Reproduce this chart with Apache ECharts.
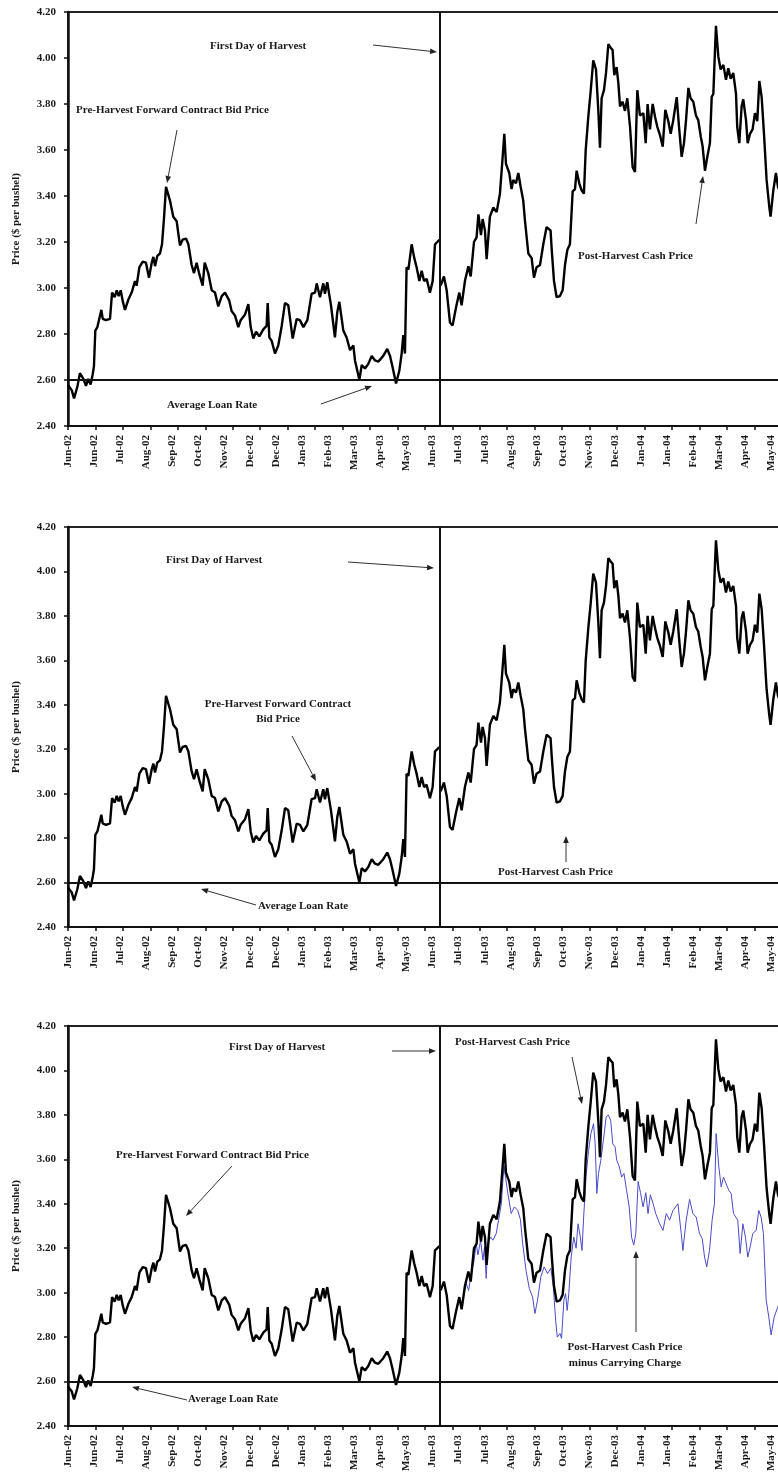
<!DOCTYPE html>
<html>
<head>
<meta charset="utf-8">
<script src="https://cdn.jsdelivr.net/npm/echarts@6/dist/echarts.min.js"></script>
<style>
html,body{margin:0;padding:0;background:#fff;overflow:hidden;}
#chart{width:810px;height:1477px;}
</style>
</head>
<body>
<div id="chart"></div>
<script>
// ---- DATA (x = trading-day index from first day shown, y = $ per bushel) ----
const tickLabels = ['Jun-02','Jun-02','Jul-02','Aug-02','Sep-02','Oct-02','Nov-02','Dec-02','Dec-02','Jan-03','Feb-03','Mar-03','Apr-03','May-03','Jun-03','Jul-03','Jul-03','Aug-03','Sep-03','Oct-03','Nov-03','Dec-03','Jan-04','Jan-04','Feb-04','Mar-04','Apr-04','May-04'];
const harvestDay = 271;
const loanRate = 2.595;

const preHarvest = [[0,2.577],[2.7,2.556],[4.4,2.52],[6.8,2.57],[8.7,2.63],[11.2,2.605],[13.1,2.575],[14.8,2.605],[16.5,2.58],[18,2.625],[18.9,2.66],[19.9,2.815],[21.4,2.83],[22.8,2.866],[24.3,2.905],[25.3,2.866],[27.7,2.86],[30.6,2.866],[32.1,2.98],[34,2.96],[35.5,2.99],[36.9,2.965],[38.4,2.99],[39.8,2.945],[41.5,2.905],[44,2.95],[46.4,2.98],[48.8,3.03],[50,3.01],[52,3.09],[54.4,3.115],[56.8,3.11],[59,3.045],[61,3.11],[62.2,3.135],[63.4,3.095],[65.1,3.14],[67,3.15],[68.5,3.19],[69.9,3.30],[71.4,3.44],[74.3,3.38],[76.7,3.31],[79.2,3.29],[80.4,3.236],[81.6,3.185],[83.5,3.21],[86,3.215],[87.7,3.19],[90.1,3.10],[91.8,3.065],[93.7,3.11],[95.7,3.06],[98.1,3.01],[99.6,3.11],[102.2,3.065],[104.7,2.99],[107.1,2.98],[109.5,2.92],[112,2.965],[114.4,2.98],[117.5,2.945],[119.2,2.90],[121.7,2.88],[124.1,2.83],[125.8,2.86],[129,2.885],[131.4,2.93],[133.1,2.83],[135,2.78],[137,2.81],[139.4,2.79],[142.3,2.82],[144.7,2.835],[145.5,2.935],[146.7,2.785],[148.4,2.77],[150.8,2.715],[153.2,2.75],[155.7,2.835],[158.1,2.935],[160.5,2.925],[163.7,2.78],[166.6,2.865],[169,2.86],[171.5,2.83],[174.4,2.86],[177.5,2.975],[180,2.98],[181.2,3.02],[183.6,2.96],[186,3.02],[187.2,2.975],[188.9,3.025],[191.6,2.925],[194.5,2.785],[196.2,2.895],[197.7,2.94],[200.6,2.815],[203,2.785],[205.5,2.73],[207.9,2.75],[209.1,2.685],[212.3,2.60],[214,2.665],[216.4,2.65],[218.8,2.67],[221.3,2.705],[223.7,2.685],[226.1,2.68],[229.7,2.705],[232.6,2.735],[234.6,2.705],[236.5,2.655],[239,2.585],[241.4,2.64],[243.1,2.715],[244.3,2.795],[245.5,2.715],[246.7,3.09],[248,3.08],[250.4,3.19],[252.3,3.13],[254,3.09],[256,3.03],[257.7,3.075],[259.4,3.03],[261.3,3.04],[263.7,2.98],[265.7,3.03],[267.4,3.19],[269.1,3.20],[270.5,3.21]];

const postHarvest = [[271.5,3.01],[273.9,3.05],[275.9,2.99],[278.3,2.85],[280.2,2.837],[282.7,2.915],[285.1,2.98],[286.8,2.925],[289.2,3.03],[291.7,3.095],[293.4,3.05],[295.8,3.20],[297.7,3.22],[299,3.32],[300.9,3.23],[302.1,3.30],[303.8,3.25],[305,3.125],[307.4,3.31],[309.9,3.35],[312.3,3.33],[314.7,3.41],[316.7,3.57],[317.9,3.67],[319.1,3.54],[321.5,3.50],[323.2,3.43],[324.4,3.47],[326.4,3.455],[328.1,3.50],[329.8,3.44],[331.7,3.38],[332.9,3.295],[335.4,3.15],[337.8,3.13],[339.5,3.045],[341.4,3.09],[343.9,3.10],[346.3,3.19],[348.7,3.265],[350,3.27],[351.6,3.25],[352.4,3.17],[354.1,3.03],[356,2.96],[358.4,2.965],[360.4,2.99],[362.1,3.10],[363.8,3.165],[365.7,3.19],[367.7,3.42],[369.4,3.43],[370.6,3.51],[372.5,3.455],[374.2,3.425],[375.9,3.41],[377.2,3.60],[379.1,3.745],[380.8,3.855],[382.7,3.99],[384.7,3.95],[386.4,3.77],[387.6,3.61],[388.8,3.825],[390.5,3.86],[392,3.935],[393.7,4.06],[395.4,4.045],[396.8,4.035],[398,3.925],[399.7,3.96],[401,3.89],[402.2,3.79],[404.1,3.81],[405.8,3.77],[407.5,3.825],[409.5,3.70],[411.4,3.525],[413.1,3.505],[414.8,3.86],[416.7,3.75],[419.2,3.76],[420.9,3.63],[422.3,3.80],[424,3.69],[426,3.80],[427.7,3.745],[429.4,3.70],[431.3,3.665],[433.3,3.615],[435.2,3.775],[437.4,3.725],[439.1,3.67],[441,3.73],[443.5,3.83],[445.2,3.70],[447.1,3.57],[448.8,3.63],[450.3,3.73],[452,3.87],[453.6,3.825],[455.6,3.81],[457.5,3.75],[459.2,3.73],[461,3.66],[462.4,3.615],[464.1,3.51],[465.8,3.57],[467.7,3.63],[469,3.83],[470.2,3.845],[471.4,4.035],[472.1,4.14],[473.8,4.007],[475.5,3.95],[477.5,3.97],[479.4,3.905],[481.1,3.955],[482.8,3.91],[484.7,3.935],[486.7,3.845],[487.6,3.70],[489.1,3.63],[490.8,3.79],[492,3.82],[494,3.73],[495.2,3.63],[496.9,3.67],[498.8,3.69],[500.5,3.76],[502.2,3.725],[503.7,3.90],[505.4,3.83],[507.1,3.67],[509,3.47],[511,3.35],[511.9,3.31],[513.9,3.425],[515.8,3.50],[517.3,3.44],[520,3.40],[524,3.42]];

const postMinusCarry = [[288.5,2.996],[290.2,3.04],[291.9,3.01],[293.8,3.086],[295.7,3.139],[297.4,3.22],[298.7,3.17],[300.6,3.236],[302.3,3.146],[303.5,3.206],[304.7,3.064],[305.9,3.22],[307.9,3.25],[309.6,3.236],[312,3.266],[313.7,3.326],[315.7,3.40],[317.6,3.57],[320.5,3.446],[322.9,3.356],[325.3,3.386],[327.7,3.37],[329.6,3.33],[331.3,3.22],[333.7,3.10],[336.1,3.019],[338.5,2.98],[340.2,2.906],[342.1,2.966],[344.5,3.071],[346.9,3.116],[349.4,3.086],[351.8,3.11],[353.6,3.026],[355.3,2.876],[356.5,2.80],[358.5,2.816],[359.6,2.794],[361.3,2.966],[362.5,2.996],[363.7,2.92],[364.9,2.996],[366.6,3.16],[368.5,3.25],[370.2,3.20],[371.6,3.31],[373.3,3.25],[374.5,3.19],[375.7,3.34],[377.6,3.536],[379.3,3.64],[381,3.716],[382.9,3.76],[384.1,3.67],[385.3,3.446],[386.5,3.536],[388.2,3.596],[390.1,3.686],[392.1,3.79],[393.7,3.80],[395.4,3.776],[396.9,3.67],[398.6,3.656],[399.8,3.596],[401.7,3.566],[403.4,3.52],[405.1,3.536],[407,3.46],[408.9,3.386],[410.6,3.25],[412.2,3.214],[413.7,3.266],[415.4,3.50],[417.1,3.45],[419,3.386],[421,3.45],[422.6,3.356],[424.3,3.44],[426.3,3.40],[428.2,3.356],[431.1,3.31],[433.5,3.28],[435.9,3.356],[438.3,3.326],[440.8,3.37],[444.4,3.40],[446.8,3.266],[448,3.19],[450.4,3.326],[452.9,3.42],[455.3,3.356],[457.7,3.34],[460.1,3.266],[462.1,3.244],[463.8,3.16],[465.4,3.116],[467.4,3.19],[469.3,3.326],[471,3.40],[472.2,3.716],[474.2,3.566],[475.9,3.476],[477.6,3.52],[479.5,3.49],[481.5,3.46],[483.2,3.446],[484.9,3.356],[488,3.326],[489.7,3.176],[491.7,3.31],[493.6,3.25],[495.3,3.16],[497,3.206],[498.9,3.266],[501.4,3.28],[503.3,3.37],[505,3.34],[506.7,3.266],[508.7,2.966],[510.6,2.89],[512.3,2.81],[514.5,2.89],[518,2.95],[522,2.97]];

// ---- LAYOUT ----
const FONT = 'Liberation Serif';
const TXT = '#1a1a1a';
const panels = [{top:12,height:414},{top:527,height:400},{top:1026,height:400}];
const gridLeft = 68, gridWidth = 741.15;

const grids = [], xAxes = [], yAxes = [], series = [];
panels.forEach((p, i) => {
  grids.push({left:gridLeft, top:p.top, width:gridWidth, height:p.height, show:true, borderColor:'#222', borderWidth:2, backgroundColor:'transparent'});
  xAxes.push({gridIndex:i, type:'value', min:0, max:540, interval:20, position:'bottom',
    axisLine:{show:true, onZero:false, lineStyle:{color:'#111', width:2}},
    axisTick:{show:true, length:4, lineStyle:{color:'#111', width:1.5}},
    axisLabel:{show:false}, splitLine:{show:false}});
  xAxes.push({gridIndex:i, type:'value', min:0, max:28.46, interval:1, position:'bottom',
    axisLine:{show:false, onZero:false}, axisTick:{show:false}, splitLine:{show:false},
    axisLabel:{rotate:90, margin:9, fontFamily:FONT, fontWeight:'bold', fontSize:11, color:TXT,
      showMinLabel:true, showMaxLabel:false,
      formatter: v => { const k = Math.round(v); return Math.abs(v-k) < 1e-6 && tickLabels[k] ? tickLabels[k] : ''; }}});
  yAxes.push({gridIndex:i, type:'value', min:2.4, max:4.2, interval:0.2,
    name:'Price ($ per bushel)', nameLocation:'middle', nameGap:46, nameRotate:90,
    nameTextStyle:{fontFamily:FONT, fontWeight:'bold', fontSize:11, color:TXT},
    axisLine:{show:true, lineStyle:{color:'#111', width:2.5}},
    axisTick:{show:true, length:4, lineStyle:{color:'#111', width:1.5}},
    axisLabel:{margin:12, fontFamily:FONT, fontWeight:'bold', fontSize:11, color:TXT, formatter: v => v.toFixed(2)},
    splitLine:{show:false}});
  if (i === 2) {
    series.push({type:'line', xAxisIndex:2*i, yAxisIndex:i, data:postMinusCarry, symbol:'none', silent:true,
      lineStyle:{color:'#4b4bc9', width:1}, z:2});
  }
  series.push({type:'line', xAxisIndex:2*i, yAxisIndex:i, data:preHarvest, symbol:'none', silent:true,
    lineStyle:{color:'#000', width:2.4}, z:3,
    markLine:{silent:true, symbol:['none','none'], label:{show:false}, animation:false,
      lineStyle:{color:'#111', width:2, type:'solid'},
      data:[{xAxis:harvestDay},{yAxis:loanRate}]}});
  series.push({type:'line', xAxisIndex:2*i, yAxisIndex:i, data:postHarvest, symbol:'none', silent:true,
    lineStyle:{color:'#000', width:2.4}, z:3});
});

// ---- ANNOTATIONS ----
const gfx = [];
function label(text, x, y, align) {
  gfx.push({type:'text', x:x, y:y, z:100, silent:true,
    style:{text:text, font:'bold 11px "' + FONT + '"', fill:TXT, textAlign:align||'left', textVerticalAlign:'middle', verticalAlign:'middle'}});
}
function arrow(x1, y1, x2, y2) {
  const a = Math.atan2(y2-y1, x2-x1), L = 7, W = 2.8;
  const bx = x2 - L*Math.cos(a), by = y2 - L*Math.sin(a);
  const px = -Math.sin(a)*W, py = Math.cos(a)*W;
  gfx.push({type:'line', z:100, silent:true, shape:{x1:x1, y1:y1, x2:bx, y2:by}, style:{stroke:'#333', lineWidth:1}});
  gfx.push({type:'polygon', z:100, silent:true, shape:{points:[[x2,y2],[bx+px,by+py],[bx-px,by-py]]}, style:{fill:'#222'}});
}
// panel 1
label('First Day of Harvest', 210, 46);
arrow(373, 45, 437, 52);
label('Pre-Harvest Forward Contract Bid Price', 76, 110);
arrow(177, 130, 167, 183);
label('Average Loan Rate', 167, 405);
arrow(321, 404, 372, 386);
label('Post-Harvest Cash Price', 578, 256);
arrow(696, 224, 703, 176);
// panel 2
label('First Day of Harvest', 166, 560);
arrow(348, 562, 434, 568);
label('Pre-Harvest Forward Contract', 278, 704, 'center');
label('Bid Price', 278, 719, 'center');
arrow(292, 736, 316, 781);
label('Post-Harvest Cash Price', 498, 872);
arrow(566, 862, 566, 836);
label('Average Loan Rate', 258, 906);
arrow(256, 905, 201, 889);
// panel 3
label('First Day of Harvest', 229, 1047);
arrow(392, 1051, 436, 1051);
label('Post-Harvest Cash Price', 455, 1042);
arrow(572, 1057, 582, 1104);
label('Pre-Harvest Forward Contract Bid Price', 116, 1155);
arrow(232, 1166, 186, 1216);
label('Average Loan Rate', 188, 1399);
arrow(187, 1400, 132, 1387);
label('Post-Harvest Cash Price', 625, 1347, 'center');
label('minus Carrying Charge', 625, 1363, 'center');
arrow(636, 1332, 636, 1251);

const chart = echarts.init(document.getElementById('chart'), null, {renderer:'canvas'});
chart.setOption({
  animation:false,
  backgroundColor:'#fff',
  grid:grids, xAxis:xAxes, yAxis:yAxes, series:series,
  graphic:gfx
});
</script>
</body>
</html>
